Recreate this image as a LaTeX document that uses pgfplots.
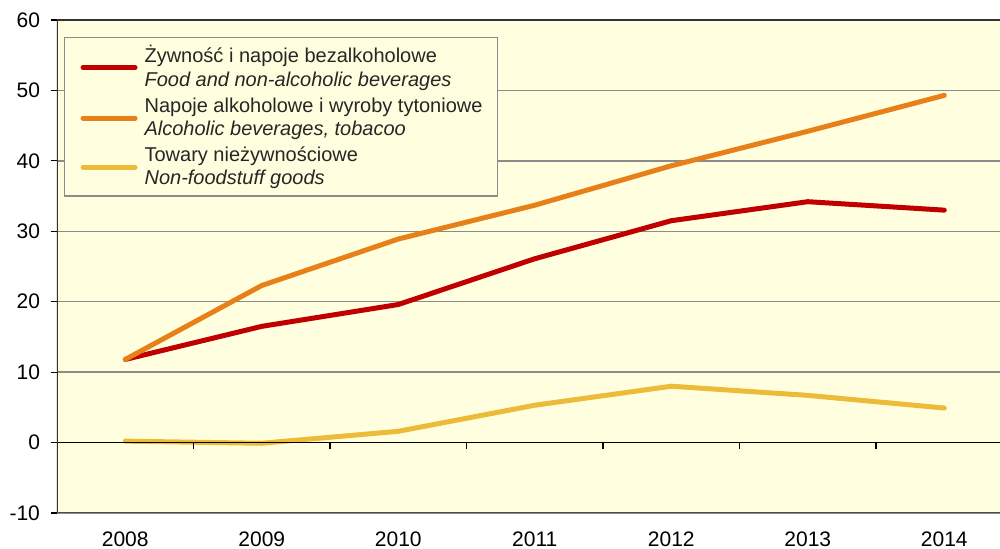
\documentclass[border=0pt]{standalone}
\usepackage{fontspec}
\setmainfont{Liberation Sans}
\usepackage{pgfplots}
\pgfplotsset{compat=1.18}
\definecolor{bgcol}{HTML}{FFFFE0}
\definecolor{cred}{HTML}{C00000}
\definecolor{corange}{HTML}{E8801A}
\definecolor{cyellow}{HTML}{EDBB3A}
\definecolor{gridc}{HTML}{8C8C8C}
\begin{document}
\begin{tikzpicture}
\useasboundingbox (-28.5pt,-18pt) rectangle (471.5pt,256.5pt);
\begin{axis}[
  scale only axis, width=471.5pt, height=246.5pt,
  at={(0,0)}, anchor=south west,
  xmin=-0.5, xmax=6.408, ymin=-10, ymax=60,
  ytick={-10,0,...,60},
  xtick={0,...,6},
  xticklabels={2008,2009,2010,2011,2012,2013,2014},
  axis background/.style={fill=bgcol},
  axis line style={draw=none},
  ymajorgrids, grid style={gridc, line width=0.75pt},
  ytick pos=left, tick align=outside, major tick length=3pt,
  tick style={black, line width=0.6pt},
  xtick style={draw=none},
  /pgf/number format/assume math mode=true,
  ticklabel style={font=\fontsize{10.5}{12}\selectfont},
  yticklabel style={xshift=-2pt},
  xticklabel style={yshift=-2.8pt},
  legend style={at={(0.0074,0.9655)}, anchor=north west, fill=bgcol, draw=gridc, line width=0.6pt,
    font=\fontsize{10}{11.8}\selectfont, text=black!85,
    cells={anchor=west, align=left}, row sep=0pt, inner xsep=5.5pt, inner ysep=2pt},
  legend image code/.code={\path (-2.5pt,0pt) (27.5pt,0pt); \draw[#1, line width=2.5pt, line cap=round] (0pt,0pt) -- (26pt,0pt);},
]
\addplot[cred, line width=2.5pt, line cap=round, line join=round] coordinates {
 (0,11.8) (1,16.5) (2,19.6) (3,26.1) (4,31.5) (5,34.2) (6,33.0)};
\addlegendentry{Żywność i napoje bezalkoholowe\\\textit{Food and non-alcoholic beverages}}
\addplot[corange, line width=2.5pt, line cap=round, line join=round] coordinates {
 (0,11.8) (1,22.3) (2,28.9) (3,33.7) (4,39.3) (5,44.2) (6,49.3)};
\addlegendentry{Napoje alkoholowe i wyroby tytoniowe\\\textit{Alcoholic beverages, tobacoo}}
\addplot[cyellow, line width=2.5pt, line cap=round, line join=round] coordinates {
 (0,0.2) (1,-0.1) (2,1.6) (3,5.3) (4,8.0) (5,6.7) (6,4.9)};
\addlegendentry{Towary nieżywnościowe\\\textit{Non-foodstuff goods}}
\draw[black, line width=0.7pt] (axis cs:-0.5,0) -- (axis cs:6.408,0);
\pgfplotsinvokeforeach{0.5,1.5,2.5,3.5,4.5,5.5}{\draw[black, line width=0.6pt] (axis cs:#1,0) -- ([yshift=-3pt]axis cs:#1,0);}
\draw[black!80, line width=0.8pt] (rel axis cs:0,0) -- (rel axis cs:0,1) -- (rel axis cs:1,1);
\draw[black!70, line width=1.3pt] (rel axis cs:0,0) -- (rel axis cs:1,0);
\end{axis}
\end{tikzpicture}
\end{document}
